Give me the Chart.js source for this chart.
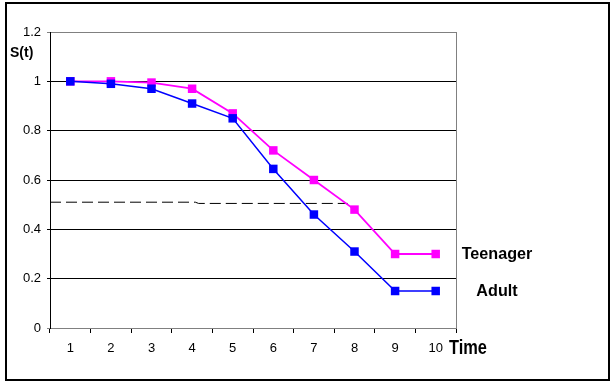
<!DOCTYPE html>
<html>
<head>
<meta charset="utf-8">
<script src="https://cdn.jsdelivr.net/npm/chart.js@4.4.1/dist/chart.umd.min.js"></script>
<style>
  html, body { margin: 0; padding: 0; background: #fff; }
  canvas { display: block; }
</style>
</head>
<body>
<canvas id="survivalChart" width="614" height="386"></canvas>
<script>
// Survival curves
const timeLabels = ['1', '2', '3', '4', '5', '6', '7', '8', '9', '10'];
const adultValues = [1.0, 0.99, 0.97, 0.91, 0.85, 0.645, 0.46, 0.31, 0.15, 0.15];
const teenValues = [1.0, 1.0, 0.995, 0.97, 0.87, 0.72, 0.60, 0.48, 0.30, 0.30];
// dashed reference line (x in category units from the left edge of the plot)
const refLineX = [0, 3.58, 3.66, 7.33];
const refLineY = [0.51, 0.51, 0.505, 0.505];
const yTickLabels = ['0', '0.2', '0.4', '0.6', '0.8', '1', '1.2'];
const seriesNames = ['Adult', 'Teenager'];

// white page with a black frame
const framePlugin = {
    id: 'frame',
    beforeDraw(chart) {
        const ctx = chart.ctx;
        ctx.save();
        ctx.fillStyle = '#fff';
        ctx.fillRect(0, 0, chart.width, chart.height);
        ctx.strokeStyle = '#000';
        ctx.lineWidth = 2;
        ctx.strokeRect(6, 3, 603, 377);
        ctx.restore();
    }
};

// right edge of plot area, axis titles and series names
const textPlugin = {
    id: 'texts',
    afterDraw(chart) {
        const ctx = chart.ctx;
        const area = chart.chartArea;
        const y = chart.scales.y;
        ctx.save();
        ctx.strokeStyle = '#808080';
        ctx.lineWidth = 1;
        ctx.beginPath();
        ctx.moveTo(area.right + 0.5, area.top);
        ctx.lineTo(area.right + 0.5, area.bottom);
        ctx.stroke();

        ctx.fillStyle = '#000';
        ctx.textBaseline = 'middle';
        ctx.textAlign = 'left';
        ctx.font = 'bold 14px "Liberation Sans", Arial, sans-serif';
        ctx.fillText('S(t)', 10, 53);

        // condensed bold labels like the original
        function drawSqueezed(text, cx, cy, size, sx, align) {
            ctx.save();
            ctx.translate(cx, cy);
            ctx.scale(sx, 1);
            ctx.font = 'bold ' + size + 'px "Liberation Sans", Arial, sans-serif';
            ctx.textAlign = align;
            ctx.fillText(text, 0, 0);
            ctx.restore();
        }
        drawSqueezed('Time', 449, 348, 20, 0.82, 'left');

        const last = timeLabels.length - 1;
        drawSqueezed(seriesNames[1], 497, y.getPixelForValue(teenValues[last]), 17, 0.95, 'center');
        drawSqueezed(seriesNames[0], 497, y.getPixelForValue(adultValues[last]), 17, 0.95, 'center');
        ctx.restore();
    }
};

const ctx = document.getElementById('survivalChart').getContext('2d');
new Chart(ctx, {
    type: 'line',
    data: {
        labels: timeLabels,
        datasets: [
            {
                label: seriesNames[0],
                data: adultValues,
                borderColor: '#0000ff',
                backgroundColor: '#0000ff',
                borderWidth: 1.5,
                pointStyle: 'rect',
                pointRadius: 6,
                pointBorderWidth: 0,
                tension: 0
            },
            {
                label: seriesNames[1],
                data: teenValues,
                borderColor: '#ff00ff',
                backgroundColor: '#ff00ff',
                borderWidth: 1.8,
                pointStyle: 'rect',
                pointRadius: 6,
                pointBorderWidth: 0,
                tension: 0
            },
            {
                label: 'ref',
                data: refLineX.map((x, i) => ({ x: x, y: refLineY[i] })),
                xAxisID: 'x2',
                borderColor: '#000',
                borderWidth: 1,
                borderDash: [11, 5],
                pointRadius: 0,
                tension: 0
            }
        ]
    },
    options: {
        responsive: false,
        animation: false,
        devicePixelRatio: 1,
        layout: {
            padding: { left: 0, right: 158, top: 32, bottom: 18 }
        },
        plugins: {
            legend: { display: false },
            tooltip: { enabled: false }
        },
        scales: {
            x: {
                type: 'category',
                offset: true,
                grid: {
                    offset: true,
                    drawOnChartArea: false,
                    tickLength: 5,
                    color: '#000'
                },
                border: { display: true, color: '#808080' },
                ticks: {
                    color: '#000',
                    padding: 8,
                    maxRotation: 0,
                    font: { family: '"Liberation Sans", Arial, sans-serif', size: 13 }
                },
                afterFit: function(scale) { scale.height = 40; }
            },
            x2: {
                type: 'linear',
                display: false,
                min: 0,
                max: timeLabels.length
            },
            y: {
                min: 0,
                max: 1.2,
                ticks: {
                    stepSize: 0.2,
                    color: '#000',
                    padding: 6,
                    font: { family: '"Liberation Sans", Arial, sans-serif', size: 13 },
                    callback: function(value, index) { return yTickLabels[index]; }
                },
                grid: {
                    tickLength: 3,
                    lineWidth: 1,
                    color: function(c) {
                        if (!c.tick) return '#000';
                        return (c.tick.value >= 1.19 || c.tick.value === 0) ? '#808080' : '#000';
                    }
                },
                border: { display: true, color: '#000' },
                afterFit: function(scale) { scale.width = 50; }
            }
        }
    },
    plugins: [framePlugin, textPlugin]
});
</script>
</body>
</html>
